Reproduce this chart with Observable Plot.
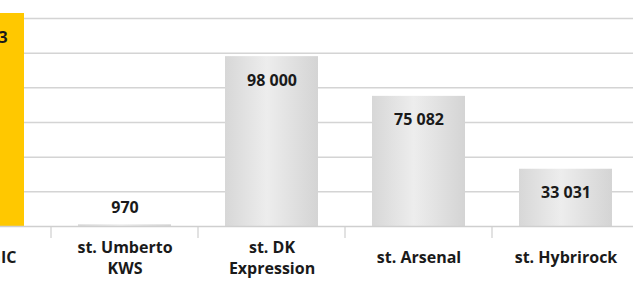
<!DOCTYPE html>
<html>
<head>
<meta charset="utf-8">
<script src="https://cdn.jsdelivr.net/npm/d3@7"></script>
<script src="https://cdn.jsdelivr.net/npm/@observablehq/plot@0.6"></script>
<style>
  html, body { margin: 0; padding: 0; background: #fff; }
  svg { display: block; }
</style>
</head>
<body>
<div id="chart"></div>
<script>
const categories = ["st. MAGIC", "st. Umberto\nKWS", "st. DK\nExpression", "st. Arsenal", "st. Hybrirock"];
const values = [122883, 970, 98000, 75082, 33031];
const highlight = [true, false, false, false, false];
const yTicks = [0, 20000, 40000, 60000, 80000, 100000, 120000];

const data = categories.map((c, i) => ({cat: c, value: values[i], hi: highlight[i]}));
const fmt = v => d3.format(",")(v).replace(/,/g, " ");

const font = "'Open Sans', sans-serif";
const fs = 16;

const chart = Plot.plot({
  width: 633,
  height: 281,
  marginTop: 0,
  marginBottom: 55,
  marginLeft: 0,
  marginRight: 0,
  style: {fontFamily: font, background: "#fff", overflow: "hidden"},
  x: {domain: categories, range: [-96.5, 638.5], paddingInner: 0.37, paddingOuter: 0.185, axis: null},
  y: {domain: [0, 120000], range: [226, 18], axis: null},
  marks: [
    Plot.ruleY(yTicks.slice(1), {stroke: "#d4d4d4", strokeWidth: 1.5}),
    Plot.barY(data, {
      x: "cat", y: "value",
      fill: d => d.hi ? "#ffc800" : "url(#grayGrad)"
    }),
    Plot.ruleY([0], {stroke: "#cfcfcf", strokeWidth: 1.5}),
    // value labels: inside top of bar, or above tiny bars
    Plot.text(data, {
      x: "cat", y: "value",
      text: d => fmt(d.value),
      fontSize: fs, fontWeight: "bold", fill: "#1a1a1a",
      lineAnchor: "middle",
      filter: d => d.value > 10000,
      dy: 24
    }),
    Plot.text(data, {
      x: "cat", y: "value",
      text: d => fmt(d.value),
      fontSize: fs, fontWeight: "bold", fill: "#1a1a1a",
      lineAnchor: "middle",
      filter: d => d.value <= 10000,
      dy: -17
    }),
    // category labels
    Plot.text(data, {
      x: "cat", y: 0,
      text: "cat",
      fontSize: fs, fontWeight: "bold", fill: "#1a1a1a",
      lineAnchor: "middle",
      lineHeight: 1.35,
      dy: 30
    })
  ]
});

// gradient for gray bars
const ns = "http://www.w3.org/2000/svg";
const defs = document.createElementNS(ns, "defs");
const grad = document.createElementNS(ns, "linearGradient");
grad.setAttribute("id", "grayGrad");
grad.setAttribute("x1", "0"); grad.setAttribute("x2", "1");
grad.setAttribute("y1", "0"); grad.setAttribute("y2", "0");
[["0%", "#d7d7d7"], ["45%", "#ededed"], ["100%", "#d4d4d4"]].forEach(([o, c]) => {
  const s = document.createElementNS(ns, "stop");
  s.setAttribute("offset", o); s.setAttribute("stop-color", c);
  grad.appendChild(s);
});
defs.appendChild(grad);
chart.insertBefore(defs, chart.firstChild);

// tick marks between categories below baseline (from the band scale)
const xs = chart.scale("x");
const ys = chart.scale("y");
const g = document.createElementNS(ns, "g");
g.setAttribute("stroke", "#cfcfcf");
g.setAttribute("stroke-width", "1.2");
categories.forEach((c) => {
  const bx = xs.apply(c) + xs.bandwidth + (xs.step - xs.bandwidth) / 2;
  const line = document.createElementNS(ns, "line");
  line.setAttribute("x1", bx); line.setAttribute("x2", bx);
  line.setAttribute("y1", ys.apply(0)); line.setAttribute("y2", ys.apply(0) + 12);
  g.appendChild(line);
});
chart.appendChild(g);

document.getElementById("chart").appendChild(chart);
</script>
</body>
</html>
